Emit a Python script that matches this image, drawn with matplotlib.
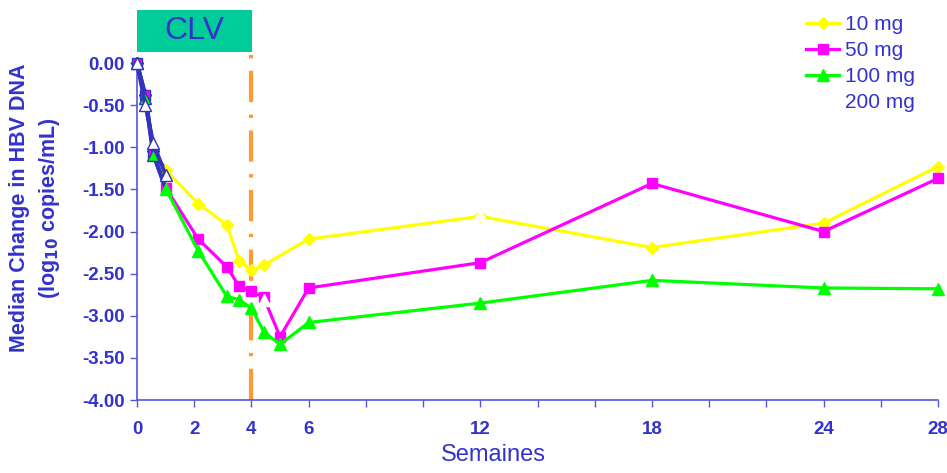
import numpy as np
import matplotlib.pyplot as plt
from matplotlib.patches import Rectangle
from matplotlib.lines import Line2D

plt.rcParams['font.family'] = ['Liberation Sans', 'DejaVu Sans']

# ============================================
# DATA (weeks, median change log10 copies/mL)
# ============================================
weeks_10 = [0, 0.29, 0.57, 1, 2.14, 3.14, 3.57, 4, 4.43, 6, 12, 18, 24, 28]
vals_10 = [0, -0.38, -1.05, -1.27, -1.67, -1.92, -2.35, -2.46, -2.40, -2.09,
           -1.82, -2.19, -1.90, -1.23]

weeks_50 = [0, 0.29, 0.57, 1, 2.14, 3.14, 3.57, 4, 4.43, 5, 6, 12, 18, 24, 28]
vals_50 = [0, -0.38, -1.07, -1.48, -2.09, -2.42, -2.65, -2.71, -2.78, -3.25,
           -2.67, -2.37, -1.43, -2.00, -1.37]

weeks_100 = [0, 0.29, 0.57, 1, 2.14, 3.14, 3.57, 4, 4.43, 5, 6, 12, 18, 24, 28]
vals_100 = [0, -0.42, -1.09, -1.49, -2.23, -2.77, -2.81, -2.91, -3.19, -3.34,
            -3.08, -2.85, -2.58, -2.67, -2.68]

weeks_200 = [0, 0.29, 0.57, 1]
vals_200 = [0, -0.50, -0.95, -1.33]
weeks_200_late = [4.43, 12]
vals_200_late = [-2.81, -1.80]

x_ticks = np.arange(0, 29, 2)
x_labels = ['0', '2', '4', '6', '', '', '12', '', '', '18', '', '', '24', '', '28']
y_ticks = np.arange(-4, 0.01, 0.5)

BLUE = '#3333cc'
NAVY = '#3333bb'

fig = plt.figure(figsize=(9.47, 4.73), dpi=100)
ax = fig.add_axes([137/947, 1 - 400/473, (938 - 137)/947, (400 - 63)/473])

# orange CLV stop line
ax.axvline(4, ymin=0, ymax=1.035, color='#ff9933', linewidth=3,
           dashes=(7.5, 3, 0.8, 3), clip_on=False, zorder=1)

series = [
    (weeks_10, vals_10, '#ffff00', 'D', 6.5, '10 mg'),
    (weeks_50, vals_50, '#ff00ff', 's', 7.5, '50 mg'),
    (weeks_100, vals_100, '#00ff00', '^', 8, '100 mg'),
]
z = 3
for w, v, c, m, ms, lab in series:
    w = np.array(w)
    v = np.array(v)
    late = w >= 1
    early = w <= 1
    ax.plot(w[late], v[late], color=c, linewidth=2.3, zorder=z, clip_on=False)
    ax.plot(w[early], v[early], color=NAVY, linewidth=2.8, zorder=z, clip_on=False)
    ax.plot(w[late], v[late], linestyle='none', marker=m, markersize=ms,
            color=c, zorder=z + 0.5, clip_on=False)
    ax.plot(w[w < 1], v[w < 1], linestyle='none', marker=m, markersize=ms,
            markerfacecolor=c, markeredgecolor=NAVY, markeredgewidth=1,
            zorder=z + 0.5, clip_on=False)
    z += 1

# 200 mg: blue line with white triangles
ax.plot(weeks_200, vals_200, color=NAVY, linewidth=2.8, zorder=z, clip_on=False)
ax.plot(weeks_200, vals_200, linestyle='none', marker='^', markersize=8,
        markerfacecolor='white', markeredgecolor=NAVY, markeredgewidth=1,
        zorder=z + 0.5, clip_on=False)
ax.plot(weeks_200_late, vals_200_late, linestyle='none', marker='^',
        markersize=8, color='white', zorder=z + 0.5, clip_on=False)

ax.set_xlim(0, 28)
ax.set_ylim(-4, 0)
ax.set_xticks(x_ticks)
ax.set_xticklabels(x_labels)
ax.set_yticks(y_ticks)
ax.set_yticklabels([f'{t:.2f}' for t in y_ticks])
for lbl in ax.get_xticklabels() + ax.get_yticklabels():
    lbl.set_fontweight('bold')
    lbl.set_fontsize(13.5)
    lbl.set_color(BLUE)
ax.tick_params(axis='both', direction='out', length=5, width=1, colors='#5555dd',
               labelcolor=BLUE)
ax.tick_params(axis='x', pad=10)
ax.tick_params(axis='y', pad=4)
for s in ['top', 'right']:
    ax.spines[s].set_visible(False)
for s in ['left', 'bottom']:
    ax.spines[s].set_color('#5555dd')
    ax.spines[s].set_linewidth(1.2)

ax.set_xlabel('Semaines', fontsize=17, color=BLUE, labelpad=0)
ax.xaxis.set_label_coords(0.445, -0.13)

fig.text(20/947, 1 - 208/473, 'Median Change in HBV DNA', rotation=90,
         ha='center', va='center', fontsize=15.5, fontweight='bold', color=BLUE)
fig.text(50/947, 1 - 208/473, r'(log$_{\mathbf{10}}$ copies/mL)', rotation=90,
         ha='center', va='center', fontsize=15.5, fontweight='bold', color=BLUE)

# CLV box
fig.patches.append(Rectangle((137/947, 1 - 52/473), (252 - 137)/947, 42/473,
                             transform=fig.transFigure, facecolor='#00cc99',
                             edgecolor='none'))
fig.text((137 + 252)/2/947, 1 - 31/473, 'CLV', ha='center', va='center',
         fontsize=23, color=BLUE)

# legend
handles = [
    Line2D([], [], color='#ffff00', marker='D', markersize=6.5, linewidth=2.3),
    Line2D([], [], color='#ff00ff', marker='s', markersize=7.5, linewidth=2.3),
    Line2D([], [], color='#00ff00', marker='^', markersize=8, linewidth=2.3),
    Line2D([], [], color='none'),
]
leg = fig.legend(handles, ['10 mg', '50 mg', '100 mg', '200 mg'],
                 loc='upper left', bbox_to_anchor=(796/947, 1 - 5/473),
                 frameon=False, fontsize=15, handlelength=1.55,
                 handletextpad=0.3, labelspacing=0.33, borderpad=0)
for t in leg.get_texts():
    t.set_color(BLUE)

plt.savefig('out.png', dpi=100)
